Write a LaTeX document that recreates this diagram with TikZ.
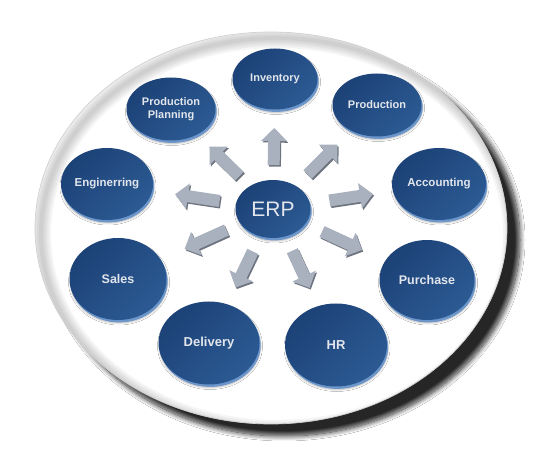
\documentclass[tikz,border=0pt]{standalone}
\usepackage{fontspec}
\setmainfont{Liberation Sans}
\usetikzlibrary{arrows.meta, calc, shapes.geometric, shadows, shadows.blur}
\definecolor{modtop}{HTML}{1C4277}
\definecolor{modbottom}{HTML}{2C5A93}
\definecolor{modrim}{HTML}{6C96CA}
\definecolor{modtext}{HTML}{E2E6EC}
\definecolor{arrowfill}{HTML}{A9B1BF}
\definecolor{arrowdark}{HTML}{6E7580}
\definecolor{discrim}{HTML}{CDD0D4}
\newcommand\modfont[1]{\fontsize{#1pt}{12.5pt}\selectfont\bfseries}
\tikzset{
  module/.style={
    ellipse, inner sep=0pt, align=center, text=modtext,
    top color=modtop, bottom color=modbottom, shading angle=45,
    blur shadow={shadow xshift=1pt, shadow yshift=-3pt,
                 shadow blur radius=2pt, shadow opacity=30},
    drop shadow={fill=modrim, opacity=1, shadow xshift=1.2pt,
                 shadow yshift=-2.4pt},
  },
  hub/.style={module, font=\fontsize{21pt}{22pt}\selectfont},
  %
  blockarr/.style={line width=12pt, draw=arrowfill,
                   -{Triangle[width=25pt,length=13pt]}},
  blockedge/.style={blockarr, draw=arrowdark,
                    transform canvas={shift={(1.2pt,-1.6pt)}}},
  bevel/.style={draw=black, opacity=0.04},
}
\begin{document}
\begin{tikzpicture}[x=1pt, y=1pt]

  \fill[white] (0,0) rectangle (546,455);
  \useasboundingbox (0,0) rectangle (546,455);

  \def\RX{236pt}
  \def\RY{196pt}

  % the disc
  \fill[white,
        blur shadow={shadow xshift=13pt, shadow yshift=-12pt,
                     shadow blur radius=5pt, shadow blur steps=12,
                     shadow opacity=85}]
    (271,227) ellipse [x radius=\RX, y radius=\RY];
  \begin{scope}
    \clip (271,227) ellipse [x radius=\RX, y radius=\RY];
    \foreach \w in {4,8,12,16,20}
      \draw[bevel, line width=\w pt]
        (277,221) ellipse [x radius=\RX, y radius=\RY];
  \end{scope}
  \draw[discrim, line width=0.7pt]
    (271,227) ellipse [x radius=\RX, y radius=\RY];

  % modules
  \node[hub, minimum width=75pt, minimum height=58pt] (erp) at (273,246) {ERP};

  \node[module, minimum width=85pt, minimum height=61pt, font=\modfont{11}]
    (inv) at (275,376) {Inventory};
  \node[module, minimum width=89pt, minimum height=63pt, font=\modfont{11}]
    (pp) at (171,346) {Production\\Planning};
  \node[module, minimum width=89pt, minimum height=63pt, font=\modfont{11}]
    (prod) at (377,350) {Production};
  \node[module, minimum width=92pt, minimum height=72pt, font=\modfont{11.5}]
    (eng) at (107,271) {Enginerring};
  \node[module, minimum width=94pt, minimum height=72pt, font=\modfont{11.5}]
    (acc) at (439,271) {Accounting};
  \node[module, minimum width=97pt, minimum height=82pt, font=\modfont{12.5}]
    (sales) at (118,176) {Sales};
  \node[module, minimum width=95pt, minimum height=80pt, font=\modfont{12.5}]
    (purch) at (427,175) {Purchase};
  \node[module, minimum width=101pt, minimum height=83pt, font=\modfont{13}]
    (deliv) at (209,112) {Delivery};
  \node[module, minimum width=102pt, minimum height=83pt, font=\modfont{13}]
    (hr) at (336,110) {HR};

  % arrows out of the hub
  \foreach \to/\tail/\tip in {inv/44/81, pp/47/89, prod/49/91, eng/54/99,
      acc/57/101, sales/51/97, purch/54/98, deliv/47/87, hr/46/87} {
    \draw[blockedge] ($(erp)!\tail pt!(\to)$) -- ($(erp)!\tip pt!(\to)$);
    \draw[blockarr]  ($(erp)!\tail pt!(\to)$) -- ($(erp)!\tip pt!(\to)$);
  }

\end{tikzpicture}
\end{document}
